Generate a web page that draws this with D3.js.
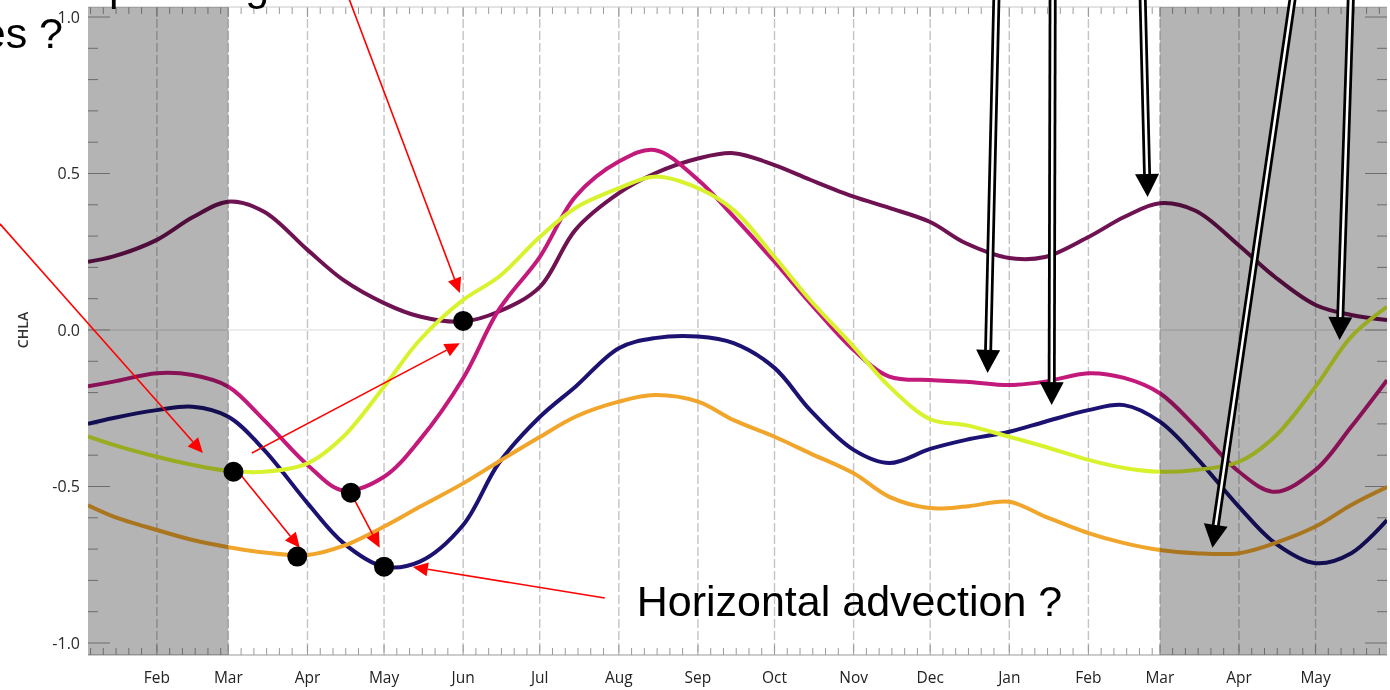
<!DOCTYPE html>
<html><head><meta charset="utf-8">
<script src="https://cdn.jsdelivr.net/npm/d3@7"></script>
<style>html,body{margin:0;padding:0;background:#fff;overflow:hidden}</style>
</head><body>
<svg id="c" width="1390" height="690"></svg>
<script>
// ---------- data ----------
const dates = ["2001-01-05","2001-01-15","2001-02-01","2001-02-15","2001-03-01","2001-03-15","2001-04-01","2001-04-15","2001-05-01","2001-05-15","2001-06-01","2001-06-15","2001-07-01","2001-07-15","2001-08-01","2001-08-15","2001-09-01","2001-09-15","2001-10-01","2001-10-15","2001-11-01","2001-11-15","2001-12-01","2001-12-15","2002-01-01","2002-01-15","2002-02-01","2002-02-15","2002-03-01","2002-03-15","2002-04-01","2002-04-15","2002-05-01","2002-05-15","2002-05-29"];
const maroon  = [0.218,0.235,0.288,0.36,0.41,0.378,0.256,0.16,0.086,0.043,0.027,0.059,0.137,0.32,0.437,0.50,0.548,0.565,0.527,0.48,0.426,0.39,0.345,0.277,0.23,0.233,0.297,0.361,0.405,0.381,0.27,0.17,0.08,0.048,0.032];
const magenta = [-0.18,-0.165,-0.138,-0.144,-0.181,-0.288,-0.431,-0.513,-0.469,-0.351,-0.154,0.065,0.233,0.426,0.538,0.575,0.48,0.362,0.218,0.086,-0.064,-0.149,-0.16,-0.165,-0.176,-0.165,-0.138,-0.153,-0.202,-0.309,-0.453,-0.517,-0.447,-0.309,-0.16];
const navy    = [-0.30,-0.281,-0.256,-0.245,-0.277,-0.383,-0.553,-0.68,-0.756,-0.74,-0.623,-0.425,-0.278,-0.181,-0.058,-0.026,-0.021,-0.042,-0.121,-0.256,-0.383,-0.425,-0.38,-0.351,-0.325,-0.293,-0.256,-0.24,-0.293,-0.405,-0.565,-0.68,-0.745,-0.713,-0.607];
const yellow  = [-0.34,-0.367,-0.405,-0.431,-0.45,-0.453,-0.426,-0.341,-0.181,-0.032,0.096,0.17,0.297,0.39,0.453,0.49,0.453,0.383,0.234,0.096,-0.053,-0.181,-0.285,-0.304,-0.341,-0.373,-0.415,-0.441,-0.453,-0.447,-0.421,-0.341,-0.181,-0.021,0.074];
const orange  = [-0.56,-0.596,-0.639,-0.671,-0.694,-0.711,-0.719,-0.69,-0.628,-0.565,-0.49,-0.42,-0.342,-0.277,-0.229,-0.208,-0.229,-0.288,-0.341,-0.394,-0.458,-0.533,-0.569,-0.564,-0.549,-0.596,-0.649,-0.681,-0.703,-0.713,-0.713,-0.681,-0.628,-0.559,-0.502];
const seriesNames  = ["maroon","magenta","navy","yellow","orange"];
const seriesColors = ["#6e1252","#c2197a","#1b1272","#d9f22e","#f1a52b"];
const yTicks = [-1.0,-0.5,0.0,0.5,1.0];
const yTickLabels = ["-1.0","-0.5","0.0","0.5","1.0"];
const shadedPeriods = [["2001-01-05","2001-03-01"],["2002-03-01","2002-05-29"]];
const dotDates  = ["2001-03-03","2001-03-28","2001-04-18","2001-05-01","2001-06-01"];
const dotValues = [-0.453,-0.724,-0.52,-0.756,0.029];
// annotations: [day offset from 2001-02-01, value]
const redArrows = [
  [[75.2,1.06],[118.7,0.118]],
  [[-61.5,0.339],[18.0,-0.393]],
  [[37.2,-0.393],[118.7,-0.042]],
  [[31.3,-0.447],[56.0,-0.696]],
  [[74.8,-0.502],[87.3,-0.696]],
  [[175.5,-0.856],[100.3,-0.757]]
];
const blackArrows = [
  [[329.0,1.08],[325.5,-0.137]],
  [[351.0,1.08],[350.6,-0.240]],
  [[386.2,1.08],[388.2,0.425]],
  [[445.4,1.08],[413.6,-0.696]],
  [[467.9,1.08],[463.4,-0.032]]
];
const texts = [
  {t:"Horizontal advection ?", p:[188.0,-0.914], anchor:"start"},
  {t:"es ?", p:[-36.8,0.901], anchor:"end"},
  {t:"Deep mixing ?", p:[-49.7,1.054], anchor:"start"}
];

// ---------- scales ----------
const W=1390,H=690;
const L=88,R=1387,T=7,B=655;
const parse = s => new Date(s+"T00:00:00Z");
const x = d3.scaleUtc().domain([parse("2001-01-05"), parse("2002-05-29")]).range([L,R]);
const y = d3.scaleLinear().domain([-1,1]).range([643,17]);
const base = parse("2001-02-01");
const P = ([d,v]) => [x(new Date(+base + d*864e5)), y(v)];

const svg = d3.select("#c");
svg.append("rect").attr("width",W).attr("height",H).attr("fill","#fff");
svg.append("defs").append("clipPath").attr("id","clip")
  .append("rect").attr("x",L).attr("y",T).attr("width",R-L).attr("height",B-T);

const plot = svg.append("g");
const months = d3.utcMonths(parse("2001-02-01"), parse("2002-05-29"));

// vertical dashed month grid
plot.append("g").selectAll("line").data(months).join("line")
  .attr("x1",d=>x(d)).attr("x2",d=>x(d)).attr("y1",T).attr("y2",B)
  .attr("stroke","#c4c4c4").attr("stroke-width",1.4).attr("stroke-dasharray","9,3");
// zero line
plot.append("line").attr("x1",L).attr("x2",R).attr("y1",y(0)).attr("y2",y(0))
  .attr("stroke","#e6e6e6").attr("stroke-width",1.5);

// ticks
const days = d3.utcDays(x.domain()[0], x.domain()[1]).filter(d=>[1,6,11,16,21,26].includes(d.getUTCDate()));
const tk = plot.append("g").attr("stroke","#9a9a9a").attr("stroke-width",1);
tk.selectAll(".bt").data(days).join("line")
  .attr("x1",d=>x(d)).attr("x2",d=>x(d)).attr("y1",B).attr("y2",d=>B-(d.getUTCDate()===1?10:7));
tk.selectAll(".tt").data(days).join("line")
  .attr("x1",d=>x(d)).attr("x2",d=>x(d)).attr("y1",T).attr("y2",d=>T+(d.getUTCDate()===1?10:7));
const minorY = d3.range(-10,11).map(i=>i/10);
const isMajor = d => Math.abs(d*2-Math.round(d*2))<1e-6;
tk.selectAll(".ly").data(minorY).join("line")
  .attr("x1",L).attr("x2",d=>L+(isMajor(d)?22:10)).attr("y1",d=>y(d)).attr("y2",d=>y(d));
tk.selectAll(".ry").data(minorY).join("line")
  .attr("x1",R).attr("x2",d=>R-(isMajor(d)?22:10)).attr("y1",d=>y(d)).attr("y2",d=>y(d));
plot.append("line").attr("x1",L).attr("x2",R).attr("y1",B).attr("y2",B).attr("stroke","#9a9a9a");
plot.append("line").attr("x1",L).attr("x2",R).attr("y1",T).attr("y2",T).attr("stroke","#c8c8c8");

// lines
const seriesValues = [maroon,magenta,navy,yellow,orange];
const dts = dates.map(parse);
const line = d3.line().x((d,i)=>x(dts[i])).y(d=>y(d)).curve(d3.curveCatmullRom.alpha(0.5));
const lg = plot.append("g").attr("clip-path","url(#clip)");
seriesValues.forEach((vals,k)=>{
  lg.append("path").datum(vals).attr("d",line).attr("fill","none")
    .attr("stroke",seriesColors[k]).attr("stroke-width",4).attr("stroke-linejoin","round")
    .attr("class",seriesNames[k]);
});

// grey shading (multiply)
svg.append("g").selectAll("rect").data(shadedPeriods).join("rect")
  .attr("x",d=>x(parse(d[0]))).attr("width",d=>x(parse(d[1]))-x(parse(d[0])))
  .attr("y",T).attr("height",B-T).attr("fill","#b4b4b4").style("mix-blend-mode","multiply");

// axis labels
svg.append("g").selectAll("text").data(yTicks).join("text")
  .attr("x",L-8).attr("y",d=>y(d)).attr("dy","0.35em").attr("text-anchor","end")
  .attr("font-family","'Open Sans', sans-serif").attr("font-size",16).attr("fill","#2a2a2a")
  .text((d,i)=>yTickLabels[i]);
svg.append("g").selectAll("text").data(months).join("text")
  .attr("x",d=>x(d)).attr("y",683).attr("text-anchor","middle")
  .attr("font-family","'Open Sans', sans-serif").attr("font-size",15.5).attr("fill","#222")
  .text(d3.utcFormat("%b"));
svg.append("text").attr("transform",`translate(28,${y(0)}) rotate(-90)`).attr("text-anchor","middle")
  .attr("font-family","'Open Sans', sans-serif").attr("font-size",14).attr("font-weight",600).attr("fill","#333")
  .text("CHLA");

// arrow helper
function head(g,x1,y1,x2,y2,len,hw,fill){
  const a=Math.atan2(y2-y1,x2-x1), bx=x2-len*Math.cos(a), by=y2-len*Math.sin(a);
  const px=-Math.sin(a)*hw, py=Math.cos(a)*hw;
  g.append("path").attr("d",`M${x2},${y2}L${bx+px},${by+py}L${bx-px},${by-py}Z`).attr("fill",fill);
  return [bx,by];
}
const ann = svg.append("g");
// black hollow arrows
blackArrows.forEach(([s,e])=>{
  const [x1,y1]=P(s),[x2,y2]=P(e);
  const a=Math.atan2(y2-y1,x2-x1);
  const ex=x2-20*Math.cos(a), ey=y2-20*Math.sin(a);
  ann.append("line").attr("x1",x1).attr("y1",y1).attr("x2",ex).attr("y2",ey).attr("stroke","#000").attr("stroke-width",8);
  ann.append("line").attr("x1",x1).attr("y1",y1).attr("x2",ex).attr("y2",ey).attr("stroke","#fff").attr("stroke-width",2.5);
  head(ann,x1,y1,x2,y2,23,12,"#000");
});
// red arrows
redArrows.forEach(([s,e])=>{
  const [x1,y1]=P(s),[x2,y2]=P(e);
  const [bx,by]=head(ann,x1,y1,x2,y2,15,7,"#ff0000");
  ann.append("line").attr("x1",x1).attr("y1",y1).attr("x2",bx).attr("y2",by).attr("stroke","#ff0000").attr("stroke-width",1.6);
});
// black dots
ann.append("g").selectAll("circle").data(dotDates).join("circle")
  .attr("cx",d=>x(parse(d))).attr("cy",(d,i)=>y(dotValues[i])).attr("r",10).attr("fill","#000");
// texts
texts.forEach(o=>{
  const [tx,ty]=P(o.p);
  ann.append("text").attr("x",tx).attr("y",ty).attr("text-anchor",o.anchor)
    .attr("font-family","'Liberation Sans', Arial, sans-serif").attr("font-size",43).attr("fill","#000")
    .text(o.t);
});
</script>
</body></html>
